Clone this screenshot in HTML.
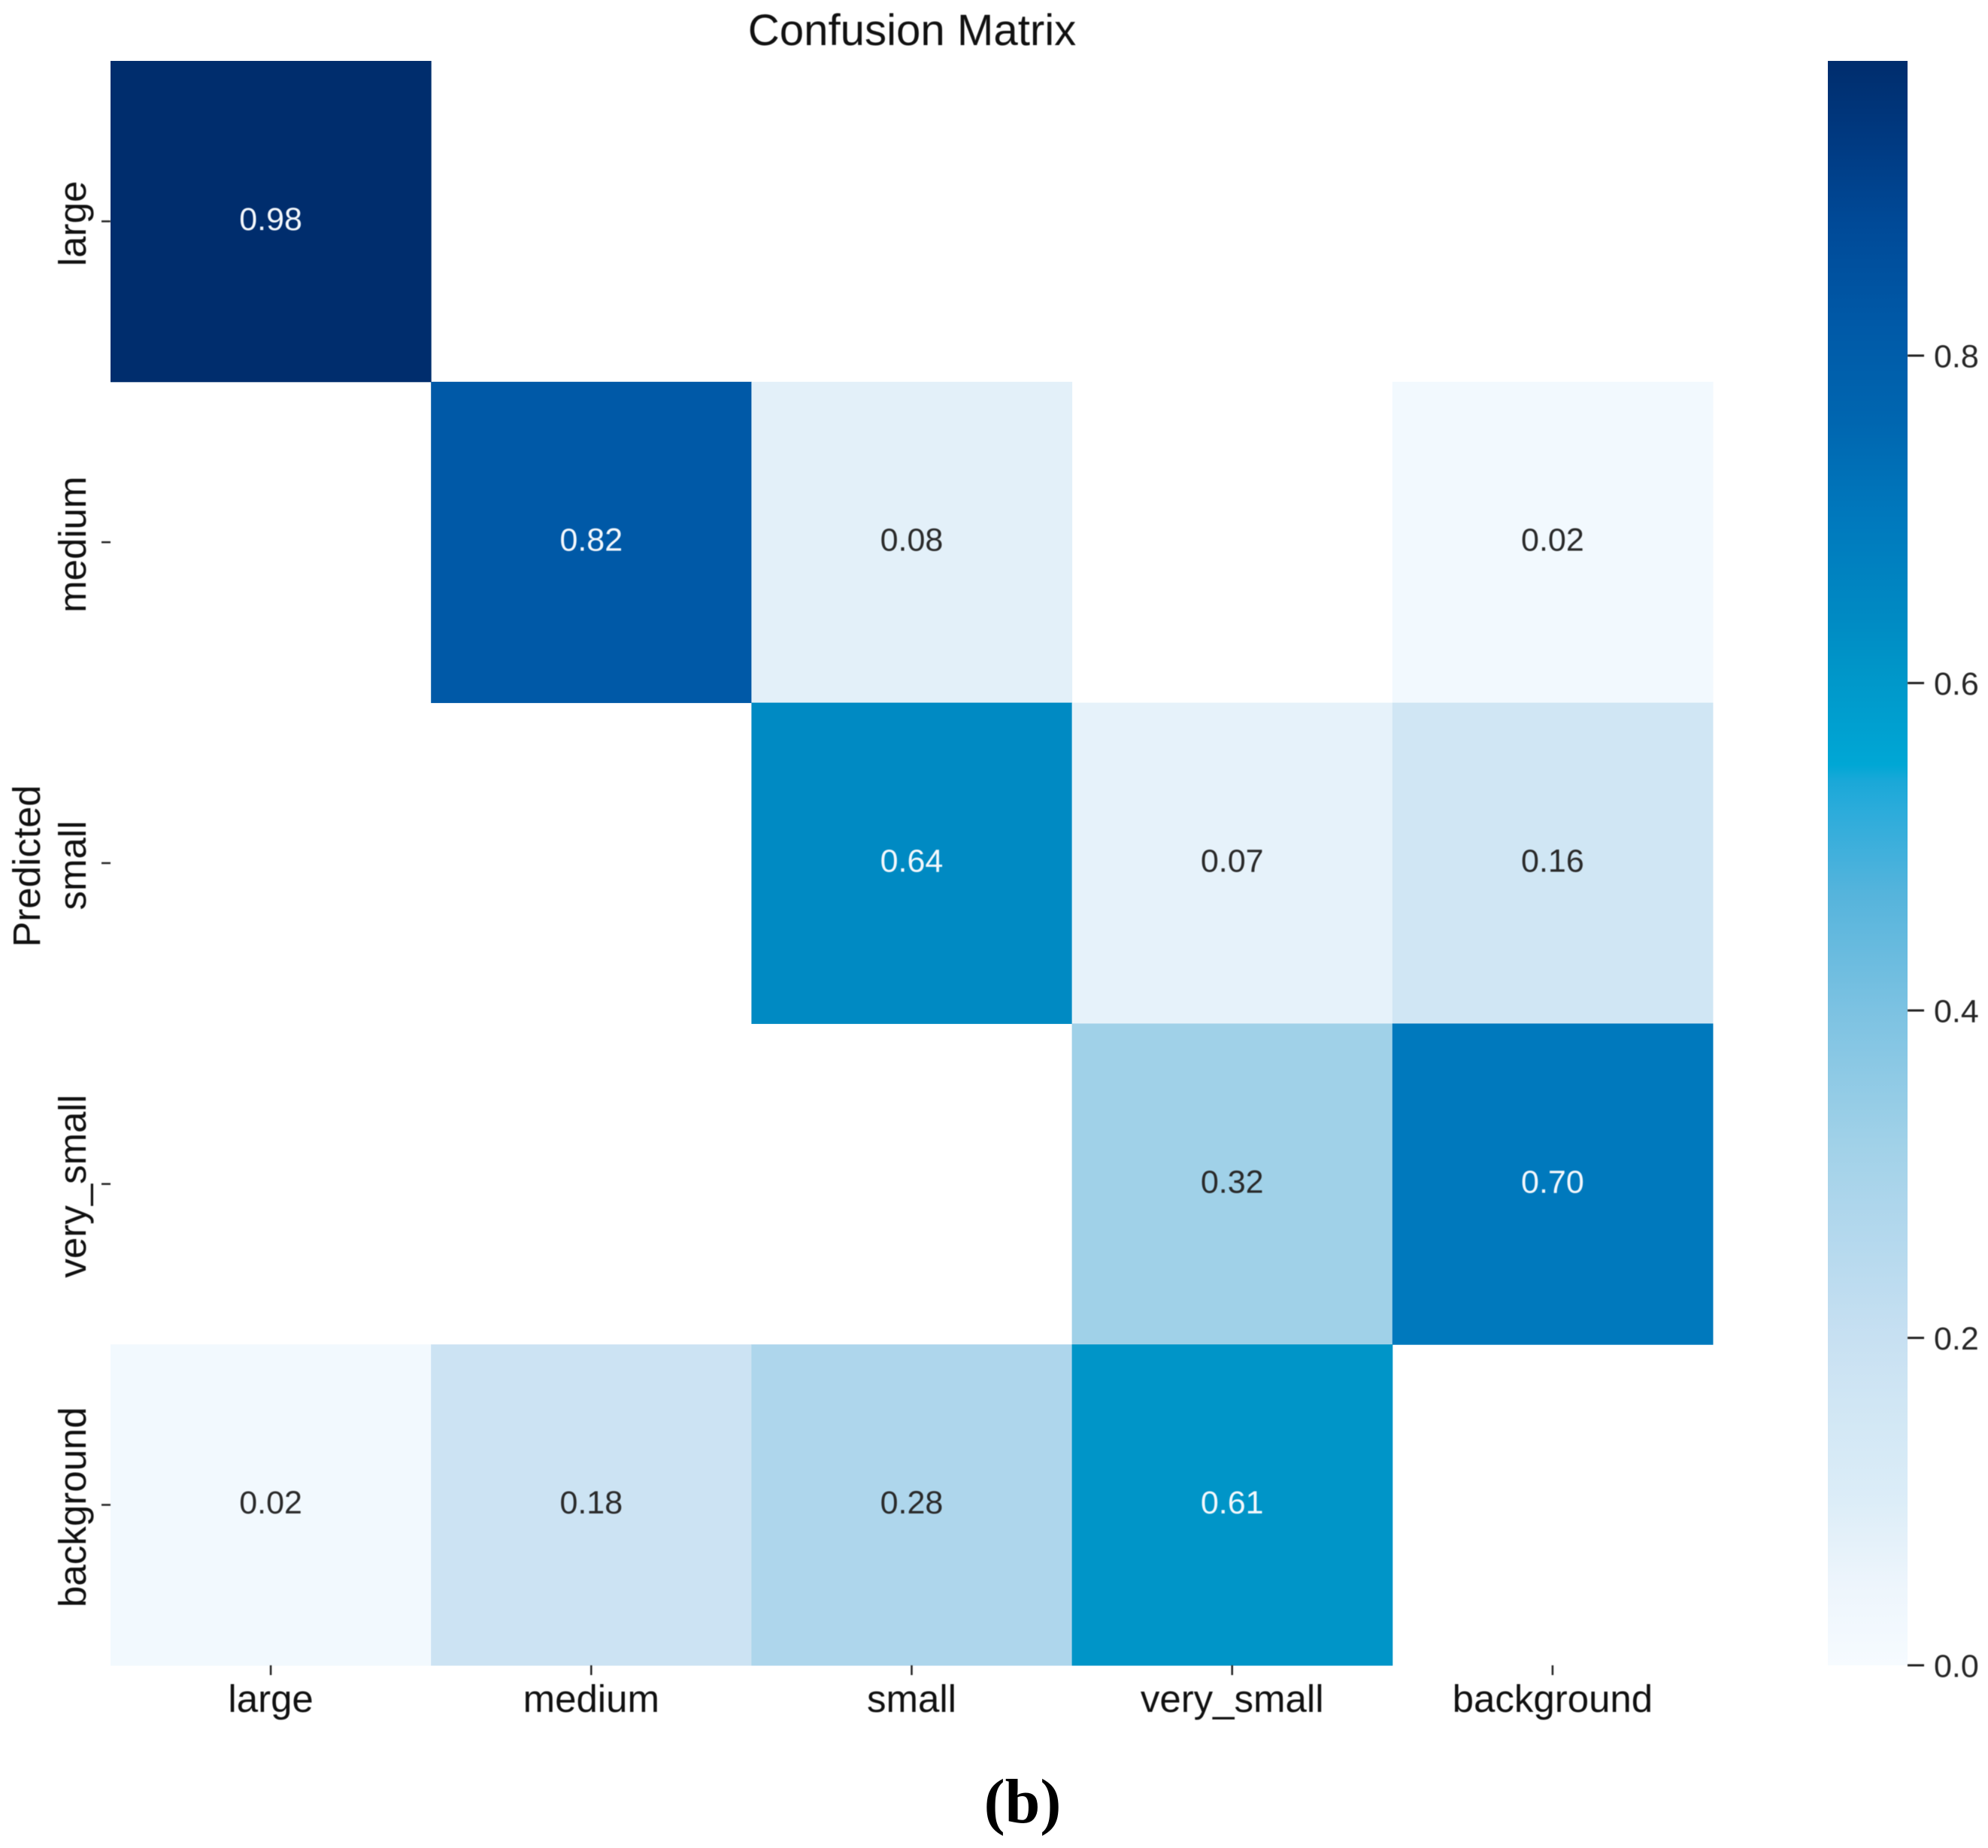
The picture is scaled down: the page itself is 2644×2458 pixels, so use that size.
<!DOCTYPE html>
<html lang="en">
<head>
<meta charset="utf-8">
<title>Confusion Matrix</title>
<style>
  html, body { margin: 0; padding: 0; background: #fff; }
  svg { display: block; }
  text { font-family: "Liberation Sans", Arial, sans-serif; }
  .soft { filter: blur(0.5px); }
</style>
</head>
<body>
<svg id="chart" xmlns="http://www.w3.org/2000/svg" width="2644" height="2458" viewBox="0 0 2644 2458">
  <defs>
    <linearGradient id="cbGradient" x1="0" y1="1" x2="0" y2="0"></linearGradient>
  </defs>
  <rect x="0" y="0" width="2644" height="2458" fill="#ffffff"></rect>
  <g id="cells"></g>
  <g id="annotations" class="soft"></g>
  <g id="xAxis" class="soft"></g>
  <g id="yAxis" class="soft"></g>
  <rect id="colorbar" x="2431" y="81" width="106" height="2134" fill="url(#cbGradient)"></rect>
  <g id="cbAxis" class="soft"></g>
  <text class="soft" x="1213" y="60" font-size="58.2" text-anchor="middle" fill="#111111">Confusion Matrix</text>
  <text class="soft" transform="translate(53 1152) rotate(-90)" font-size="51" text-anchor="middle" fill="#111111">Predicted</text>
  <text x="1360" y="2424" font-size="84" font-weight="bold" text-anchor="middle" fill="#000000" style="font-family:'Liberation Serif',serif">(b)</text>
</svg>
<script>
const categories = ['large', 'medium', 'small', 'very_small', 'background'];
const matrix = [
  [0.98, null, null, null, null],
  [null, 0.82, 0.08, null, 0.02],
  [null, null, 0.64, 0.07, 0.16],
  [null, null, null, 0.32, 0.70],
  [0.02, 0.18, 0.28, 0.61, null]
];
const colorbarTicks = [0, 0.2, 0.4, 0.6, 0.8];
const colorbarMax = 0.98;
const colormapStops = [
  [0.00, '#f6fbff'], [0.05, '#edf5fc'], [0.08, '#e3f0f9'], [0.10, '#dcedf8'],
  [0.16, '#d0e6f4'], [0.18, '#cce3f3'], [0.20, '#c7e0f2'],
  [0.28, '#aed6ec'], [0.32, '#a0d1e8'], [0.40, '#7cc2e2'], [0.47, '#56b4dc'],
  [0.52, '#2dacdb'], [0.54, '#1aa8d8'], [0.55, '#00a7d5'], [0.61, '#0095c8'],
  [0.64, '#008ac3'], [0.70, '#0079bd'], [0.76, '#0066b0'], [0.82, '#0059a7'],
  [0.88, '#004a98'], [0.93, '#003a82'], [0.98, '#002d6d']
];

const SVG_NS = 'http://www.w3.org/2000/svg';
const plot = { left: 147, top: 81, width: 2131, height: 2134 };
const cbBox = { left: 2431, right: 2537, top: 81, bottom: 2215 };

const cellW = plot.width / categories.length;
const cellH = plot.height / categories.length;
function xScale(i) { return plot.left + i * cellW; }
function yScale(i) { return plot.top + i * cellH; }
function cbScale(v) { return cbBox.bottom - (v / colorbarMax) * (cbBox.bottom - cbBox.top); }

function hexToRgb(h) {
  return [parseInt(h.slice(1, 3), 16), parseInt(h.slice(3, 5), 16), parseInt(h.slice(5, 7), 16)];
}
function colorFor(v) {
  if (v <= colormapStops[0][0]) return colormapStops[0][1];
  for (let i = 1; i < colormapStops.length; i++) {
    if (v <= colormapStops[i][0]) {
      const a = colormapStops[i - 1], b = colormapStops[i];
      const t = (v - a[0]) / (b[0] - a[0]);
      const ca = hexToRgb(a[1]), cb = hexToRgb(b[1]);
      return 'rgb(' + ca.map((c, k) => Math.round(c + (cb[k] - c) * t)).join(',') + ')';
    }
  }
  return colormapStops[colormapStops.length - 1][1];
}
function make(tag, attrs) {
  const el = document.createElementNS(SVG_NS, tag);
  for (const k in attrs) el.setAttribute(k, attrs[k]);
  return el;
}

const gradient = document.getElementById('cbGradient');
colormapStops.forEach(function (s) {
  const stop = make('stop', { offset: (s[0] / colorbarMax).toFixed(4), 'stop-color': s[1] });
  gradient.appendChild(stop);
});

const cellsG = document.getElementById('cells');
const annG = document.getElementById('annotations');
matrix.forEach(function (row, r) {
  row.forEach(function (v, c) {
    if (v === null) return;
    const rect = make('rect', { x: xScale(c), y: yScale(r), width: cellW + 0.5, height: cellH + 0.5, fill: colorFor(v) });
    
    
    cellsG.appendChild(rect);
    const t = make('text', {
      x: xScale(c) + cellW / 2, y: yScale(r) + cellH / 2 + 11.5,
      'font-size': 43, 'text-anchor': 'middle', fill: v > 0.5 ? '#f4f8fc' : '#2a2a2a'
    });
    
    
    t.textContent = v.toFixed(2);
    annG.appendChild(t);
  });
});

const xG = document.getElementById('xAxis');
const yG = document.getElementById('yAxis');
categories.forEach(function (name, i) {
  const cx = xScale(i) + cellW / 2;
  const xTick = make('line', { x1: cx, x2: cx, y1: plot.top + plot.height, y2: plot.top + plot.height + 13, stroke: '#222222', 'stroke-width': 2.5 });
  
  
  xG.appendChild(xTick);
  const xLabel = make('text', { x: cx, y: 2277, 'font-size': 51, 'text-anchor': 'middle', fill: '#111111' });
  
  
  xLabel.textContent = name;
  xG.appendChild(xLabel);

  const cy = yScale(i) + cellH / 2;
  const yTick = make('line', { x1: plot.left - 12, x2: plot.left, y1: cy, y2: cy, stroke: '#222222', 'stroke-width': 2.5 });
  
  
  yG.appendChild(yTick);
  const yLabel = make('text', { transform: 'translate(114 ' + (cy + 3) + ') rotate(-90)', 'font-size': 51, 'text-anchor': 'middle', fill: '#111111' });
  
  
  yLabel.textContent = name;
  yG.appendChild(yLabel);
});

const cbG = document.getElementById('cbAxis');
colorbarTicks.forEach(function (v) {
  const y = cbScale(v);
  const tick = make('line', { x1: cbBox.right, x2: cbBox.right + 22, y1: y, y2: y, stroke: '#222222', 'stroke-width': 3 });
  
  
  cbG.appendChild(tick);
  const label = make('text', { x: 2572, y: y + 15.5, 'font-size': 43, fill: '#262626' });
  
  
  label.textContent = v.toFixed(1);
  cbG.appendChild(label);
});
</script>
</body>
</html>
